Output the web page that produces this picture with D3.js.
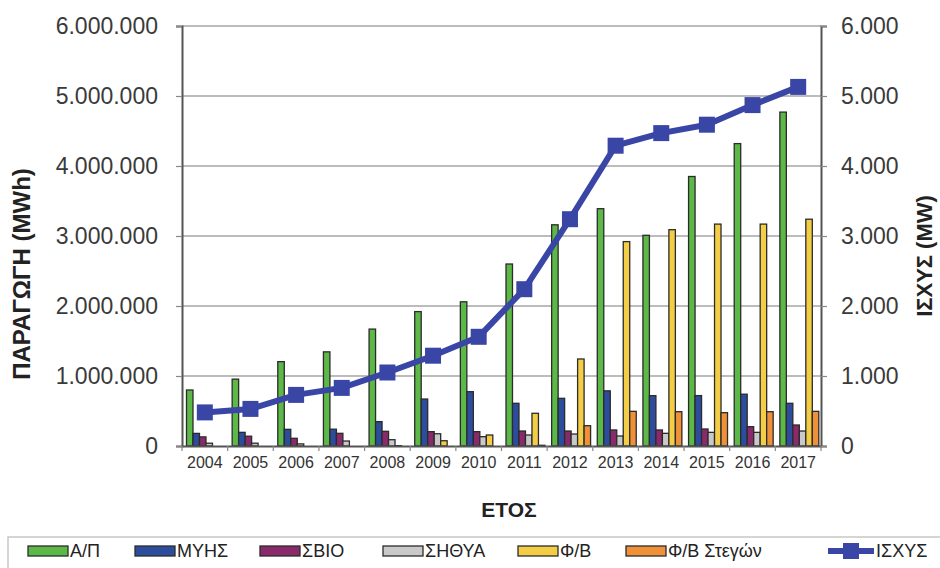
<!DOCTYPE html>
<html>
<head>
<meta charset="utf-8">
<script src="https://cdn.jsdelivr.net/npm/d3@7"></script>
<style>
  html, body { margin: 0; padding: 0; background: #fff; }
  svg { display: block; font-family: "Liberation Sans", Arial, sans-serif; }
</style>
</head>
<body>
<svg id="chart" width="940" height="568"></svg>
<script>
// Years on the category axis
const years = ["2004","2005","2006","2007","2008","2009","2010","2011","2012","2013","2014","2015","2016","2017"];

// Energy production per technology (MWh)
const windAP   = [800000, 955000, 1205000, 1345000, 1670000, 1920000, 2060000, 2600000, 3160000, 3390000, 3010000, 3850000, 4320000, 4770000];
const hydroMYHS = [180000, 195000, 238000, 240000, 348000, 671000, 776000, 610000, 681000, 788000, 719000, 720000, 740000, 610000];
const bioSBIO  = [130000, 140000, 110000, 181000, 210000, 205000, 205000, 214000, 214000, 229000, 229000, 243000, 276000, 300000];
const chpSITHYA = [40000, 40000, 30000, 71000, 90000, 175000, 133000, 157000, 171000, 143000, 181000, 195000, 195000, 214000];
const pvFB     = [0, 0, 0, 0, 5000, 75000, 157000, 467000, 1243000, 2920000, 3090000, 3170000, 3170000, 3240000];
const pvRoofs  = [0, 0, 0, 0, 0, 0, 0, 10000, 290000, 495000, 490000, 476000, 490000, 495000];

// Installed capacity (MW)
const capacity = [480, 530, 730, 830, 1050, 1290, 1560, 2240, 3240, 4290, 4470, 4590, 4870, 5130];

// Tick values
const leftTicks  = [0, 1000000, 2000000, 3000000, 4000000, 5000000, 6000000];
const rightTicks = [0, 1000, 2000, 3000, 4000, 5000, 6000];

const seriesNames = ["Α/Π", "ΜΥΗΣ", "ΣΒΙΟ", "ΣΗΘΥΑ", "Φ/Β", "Φ/Β Στεγών"];
const seriesValues = [windAP, hydroMYHS, bioSBIO, chpSITHYA, pvFB, pvRoofs];
const seriesColors = ["#5cb947", "#2c4d9e", "#8a2a6a", "#c9c9c9", "#f3cd45", "#ef9138"];
const lineName = "ΙΣΧΥΣ";
const lineColor = "#3a46a6";

const locale = d3.formatLocale({ decimal: ",", thousands: ".", grouping: [3], currency: ["", " €"] });
const fmt = locale.format(",d");

const svg = d3.select("#chart");
const plot = { left: 182, right: 821, top: 26, bottom: 446 };

const x0 = d3.scaleBand().domain(years).range([plot.left, plot.right]).padding(0);
const x1 = d3.scaleBand().domain(seriesNames)
  .range([4.5, x0.bandwidth() - 2.2]).padding(0);
const yLeft = d3.scaleLinear().domain([0, 6000000]).range([plot.bottom, plot.top]);
const yRight = d3.scaleLinear().domain([0, 6000]).range([plot.bottom, plot.top]);

// Horizontal grid lines
svg.append("g")
  .selectAll("line")
  .data(leftTicks.slice(1))
  .join("line")
  .attr("x1", plot.left).attr("x2", plot.right)
  .attr("y1", d => yLeft(d)).attr("y2", d => yLeft(d))
  .attr("stroke", "#a6a6a6").attr("stroke-width", 1.5);

// Bars
const rows = years.map((yr, i) => ({ year: yr, vals: seriesNames.map((n, k) => ({ name: n, k, v: seriesValues[k][i] })) }));
svg.append("g")
  .selectAll("g")
  .data(rows)
  .join("g")
  .attr("transform", d => `translate(${x0(d.year)},0)`)
  .selectAll("rect")
  .data(d => d.vals.filter(e => e.v > 0))
  .join("rect")
  .attr("x", d => x1(d.name))
  .attr("width", x1.bandwidth())
  .attr("y", d => yLeft(d.v))
  .attr("height", d => yLeft(0) - yLeft(d.v))
  .attr("fill", d => seriesColors[d.k])
  .attr("stroke", "#2b2b2b")
  .attr("stroke-width", 1.3);

// Axes
const axisColor = "#555";
const leftAxis = svg.append("g")
  .attr("transform", `translate(${plot.left},0)`)
  .call(d3.axisLeft(yLeft).tickValues(leftTicks).tickFormat(fmt).tickSizeOuter(0).tickSize(6).tickPadding(18));
const rightAxis = svg.append("g")
  .attr("transform", `translate(${plot.right},0)`)
  .call(d3.axisRight(yRight).tickValues(rightTicks).tickFormat(fmt).tickSizeOuter(0).tickSize(6).tickPadding(14));
const bottomAxis = svg.append("g")
  .attr("transform", `translate(0,${plot.bottom})`)
  .call(d3.axisBottom(x0).tickSize(0).tickPadding(11));

[leftAxis, rightAxis].forEach(g => {
  g.select(".domain").attr("stroke", axisColor).attr("stroke-width", 2);
  g.selectAll(".tick line").attr("stroke", "#888").attr("stroke-width", 1.2);
  g.selectAll(".tick text").attr("font-size", 23).attr("fill", "#3a3a3a")
    .attr("font-family", "'Liberation Sans', Arial, sans-serif");
});
bottomAxis.select(".domain").attr("stroke", axisColor).attr("stroke-width", 2);
bottomAxis.selectAll(".tick text").attr("font-size", 16).attr("fill", "#333")
  .attr("font-family", "'Liberation Sans', Arial, sans-serif");

// Category boundary ticks
svg.append("g")
  .selectAll("line")
  .data(years.concat(["end"]))
  .join("line")
  .attr("x1", d => d === "end" ? plot.right : x0(d))
  .attr("x2", d => d === "end" ? plot.right : x0(d))
  .attr("y1", plot.bottom).attr("y2", plot.bottom + 5)
  .attr("stroke", "#888").attr("stroke-width", 1.2);

// Capacity line with square markers
const cx = d => x0(d) + x0.bandwidth() / 2;
svg.append("path")
  .datum(years.map((yr, i) => [cx(yr), yRight(capacity[i])]))
  .attr("d", d3.line())
  .attr("fill", "none")
  .attr("stroke", lineColor)
  .attr("stroke-width", 6)
  .attr("stroke-linejoin", "round");
svg.append("g")
  .selectAll("rect")
  .data(years.map((yr, i) => ({ yr, v: capacity[i] })))
  .join("rect")
  .attr("x", d => cx(d.yr) - 8)
  .attr("y", d => yRight(d.v) - 8)
  .attr("width", 16).attr("height", 16)
  .attr("fill", lineColor);

// Axis titles
svg.append("text")
  .attr("transform", "translate(30,274) rotate(-90)")
  .attr("text-anchor", "middle")
  .attr("font-size", 24).attr("font-weight", "bold").attr("fill", "#222")
  .text("ΠΑΡΑΓΩΓΗ (MWh)");
svg.append("text")
  .attr("transform", "translate(932,256) rotate(-90)")
  .attr("text-anchor", "middle")
  .attr("font-size", 22).attr("font-weight", "bold").attr("fill", "#222")
  .text("ΙΣΧΥΣ (MW)");
svg.append("text")
  .attr("x", 509).attr("y", 517)
  .attr("text-anchor", "middle")
  .attr("font-size", 21).attr("font-weight", "bold").attr("fill", "#222")
  .text("ΕΤΟΣ");

// Legend
svg.append("rect")
  .attr("x", 8).attr("y", 537).attr("width", 940).attr("height", 40)
  .attr("fill", "#fff").attr("stroke", "#c8c8c8").attr("stroke-width", 1.5);

const legendItems = seriesNames.map((n, k) => ({ name: n, color: seriesColors[k], type: "bar" }))
  .concat([{ name: lineName, color: lineColor, type: "line" }]);
const legendX = [28, 135, 260, 383, 518, 626, 828];
const lg = svg.append("g")
  .selectAll("g")
  .data(legendItems)
  .join("g")
  .attr("transform", (d, i) => `translate(${legendX[i]},551)`);
lg.filter(d => d.type === "bar").append("rect")
  .attr("x", 0).attr("y", -5).attr("width", 40).attr("height", 10)
  .attr("fill", d => d.color).attr("stroke", "#2b2b2b").attr("stroke-width", 1.3);
lg.filter(d => d.type === "line").append("line")
  .attr("x1", 0).attr("x2", 46).attr("y1", 0).attr("y2", 0)
  .attr("stroke", d => d.color).attr("stroke-width", 6);
lg.filter(d => d.type === "line").append("rect")
  .attr("x", 15).attr("y", -8).attr("width", 16).attr("height", 16)
  .attr("fill", d => d.color);
lg.append("text")
  .attr("x", d => d.type === "line" ? 48 : 42).attr("y", 0).attr("dy", "0.36em")
  .attr("font-size", 18).attr("fill", "#222")
  .text(d => d.name);
</script>
</body>
</html>
